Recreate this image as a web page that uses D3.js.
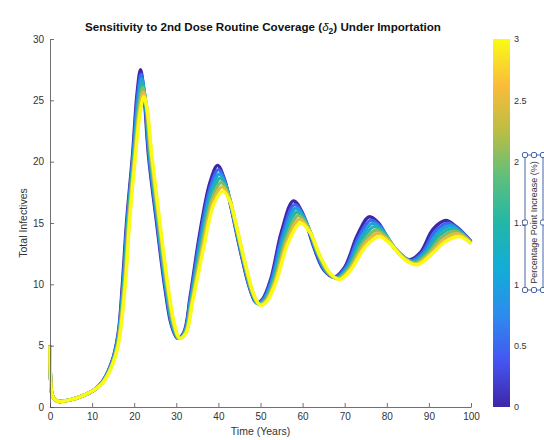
<!DOCTYPE html>
<html>
<head>
<meta charset="utf-8">
<script src="https://cdn.jsdelivr.net/npm/d3@7"></script>
<style>
  html, body { margin: 0; padding: 0; background: #fff; }
  svg { display: block; }
  text { font-family: "Liberation Sans", Arial, Helvetica, sans-serif; }
</style>
</head>
<body>
<svg id="chart" width="544" height="440"></svg>
<script>
// Percentage-point increase in 2nd dose routine coverage for each simulated run
const deltaValues = [0, 0.5, 1, 1.5, 2, 2.5, 3];

// Shared start of every run (years, total infectives): the runs coincide here
const startPhase = [[0, 5.0], [0.15, 2.2], [0.5, 1.0], [1.2, 0.6], [2.2, 0.45], [5, 0.6], [8, 0.95], [10.5, 1.4]];

// Knots (years, total infectives) of each run after the start phase
const run0 = [[12.5,2.1],[14.7,3.7],[16.2,6.0],[17.2,10.0],[18.2,15.1],[19.6,20.5],[20.7,25.6],[21.5,27.5],[22.3,25.6],[23.4,20.5],[25.3,15.1],[27.3,9.7],[28.9,6.6],[30.3,5.6],[31.8,6.1],[33.3,9.0],[35.6,14.2],[38.0,18.3],[39.8,19.7],[41.4,18.6],[42.8,16.6],[45.3,12.6],[47.5,9.6],[49.0,8.5],[50.5,8.8],[52.5,10.5],[55.0,14.3],[57.8,16.8],[60.0,15.8],[62.5,13.2],[65.0,11.2],[67.5,10.6],[70.0,11.4],[73.0,14.0],[75.8,15.5],[78.0,15.0],[81.0,13.3],[85.3,12.0],[88.0,12.6],[91.0,14.5],[94.0,15.2],[96.5,14.7],[100,13.5]];
const run1 = [[12.5,2.08],[14.7,3.63],[16.2,5.83],[17.32,10.0],[18.32,15.1],[19.72,20.5],[20.83,25.37],[21.63,27.13],[22.43,25.37],[23.53,20.5],[25.43,15.1],[27.43,9.7],[29.02,6.62],[30.38,5.6],[31.88,6.08],[33.4,8.93],[35.73,13.97],[38.17,18.02],[40.02,19.35],[41.63,18.28],[43.03,16.32],[45.52,12.4],[47.68,9.5],[49.17,8.47],[50.67,8.77],[52.68,10.43],[55.27,14.15],[58.08,16.5],[60.3,15.53],[62.8,13.03],[65.3,11.13],[67.73,10.57],[70.25,11.37],[73.33,13.85],[76.2,15.23],[78.47,14.72],[81.55,13.08],[85.63,11.93],[88.42,12.57],[91.5,14.33],[94.53,14.98],[96.92,14.52],[100,13.47]];
const run2 = [[12.5,2.05],[14.7,3.57],[16.2,5.67],[17.43,10.0],[18.43,15.1],[19.83,20.5],[20.97,25.13],[21.77,26.77],[22.57,25.13],[23.67,20.5],[25.57,15.1],[27.57,9.7],[29.13,6.63],[30.47,5.6],[31.97,6.07],[33.5,8.87],[35.87,13.73],[38.33,17.73],[40.23,19.0],[41.87,17.97],[43.27,16.03],[45.73,12.2],[47.87,9.4],[49.33,8.43],[50.83,8.73],[52.87,10.37],[55.53,14.0],[58.37,16.2],[60.6,15.27],[63.1,12.87],[65.6,11.07],[67.97,10.53],[70.5,11.33],[73.67,13.7],[76.6,14.97],[78.93,14.43],[82.1,12.87],[85.97,11.87],[88.83,12.53],[92.0,14.17],[95.07,14.77],[97.33,14.33],[100,13.43]];
const run3 = [[12.5,2.03],[14.7,3.5],[16.2,5.5],[17.55,10.0],[18.55,15.1],[19.95,20.5],[21.1,24.9],[21.9,26.4],[22.7,24.9],[23.8,20.5],[25.7,15.1],[27.7,9.7],[29.25,6.65],[30.55,5.6],[32.05,6.05],[33.6,8.8],[36.0,13.5],[38.5,17.45],[40.45,18.65],[42.1,17.65],[43.5,15.75],[45.95,12.0],[48.05,9.3],[49.5,8.4],[51.0,8.7],[53.05,10.3],[55.8,13.85],[58.65,15.9],[60.9,15.0],[63.4,12.7],[65.9,11.0],[68.2,10.5],[70.75,11.3],[74.0,13.55],[77.0,14.7],[79.4,14.15],[82.65,12.65],[86.3,11.8],[89.25,12.5],[92.5,14.0],[95.6,14.55],[97.75,14.15],[100,13.4]];
const run4 = [[12.5,2.0],[14.7,3.43],[16.2,5.33],[17.67,10.0],[18.67,15.1],[20.07,20.5],[21.23,24.67],[22.03,26.03],[22.83,24.67],[23.93,20.5],[25.83,15.1],[27.83,9.7],[29.37,6.67],[30.63,5.6],[32.13,6.03],[33.7,8.73],[36.13,13.27],[38.67,17.17],[40.67,18.3],[42.33,17.33],[43.73,15.47],[46.17,11.8],[48.23,9.2],[49.67,8.37],[51.17,8.67],[53.23,10.23],[56.07,13.7],[58.93,15.6],[61.2,14.73],[63.7,12.53],[66.2,10.93],[68.43,10.47],[71.0,11.27],[74.33,13.4],[77.4,14.43],[79.87,13.87],[83.2,12.43],[86.63,11.73],[89.67,12.47],[93.0,13.83],[96.13,14.33],[98.17,13.97],[100,13.37]];
const run5 = [[12.5,1.98],[14.7,3.37],[16.2,5.17],[17.78,10.0],[18.78,15.1],[20.18,20.5],[21.37,24.43],[22.17,25.67],[22.97,24.43],[24.07,20.5],[25.97,15.1],[27.97,9.7],[29.48,6.68],[30.72,5.6],[32.22,6.02],[33.8,8.67],[36.27,13.03],[38.83,16.88],[40.88,17.95],[42.57,17.02],[43.97,15.18],[46.38,11.6],[48.42,9.1],[49.83,8.33],[51.33,8.63],[53.42,10.17],[56.33,13.55],[59.22,15.3],[61.5,14.47],[64.0,12.37],[66.5,10.87],[68.67,10.43],[71.25,11.23],[74.67,13.25],[77.8,14.17],[80.33,13.58],[83.75,12.22],[86.97,11.67],[90.08,12.43],[93.5,13.67],[96.67,14.12],[98.58,13.78],[100,13.33]];
const run6 = [[12.5,1.95],[14.7,3.3],[16.2,5.0],[17.9,10.0],[18.9,15.1],[20.3,20.5],[21.5,24.2],[22.3,25.3],[23.1,24.2],[24.2,20.5],[26.1,15.1],[28.1,9.7],[29.6,6.7],[30.8,5.6],[32.3,6.0],[33.9,8.6],[36.4,12.8],[39.0,16.6],[41.1,17.6],[42.8,16.7],[44.2,14.9],[46.6,11.4],[48.6,9.0],[50.0,8.3],[51.5,8.6],[53.6,10.1],[56.6,13.4],[59.5,15.0],[61.8,14.2],[64.3,12.2],[66.8,10.8],[68.9,10.4],[71.5,11.2],[75.0,13.1],[78.2,13.9],[80.8,13.3],[84.3,12.0],[87.3,11.6],[90.5,12.4],[94.0,13.5],[97.2,13.9],[99.0,13.6],[100,13.3]];
const runs = [run0, run1, run2, run3, run4, run5, run6];

// Axis tick values
const xTicks = [0, 10, 20, 30, 40, 50, 60, 70, 80, 90, 100];
const yTicks = [0, 5, 10, 15, 20, 25, 30];
const cTicks = [0, 0.5, 1, 1.5, 2, 2.5, 3];

// Parula colour map stops
const parulaStops = [0, 0.125, 0.25, 0.375, 0.5, 0.625, 0.75, 0.875, 1];
const parulaColors = ["#3e26a8", "#4655f2", "#2c8ced", "#12acd8", "#22b7a8", "#5ebf7c", "#bcbd45", "#fbbc3a", "#f9fb15"];

const svg = d3.select("#chart");
const axisColor = "#4d4d4d";

const x = d3.scaleLinear().domain([0, 100]).range([50, 471]);
const y = d3.scaleLinear().domain([0, 30]).range([407, 39]);
const parula = d3.scaleLinear().domain(parulaStops).range(parulaColors).interpolate(d3.interpolateRgb);
const cDomain = d3.extent(cTicks);
const cColor = v => parula((v - cDomain[0]) / (cDomain[1] - cDomain[0]));

// Curves, lowest coverage increase drawn first
const line = d3.line()
  .x(d => x(d[0]))
  .y(d => y(d[1]))
  .curve(d3.curveCatmullRom.alpha(0.5));

svg.append("g")
  .selectAll("path")
  .data(runs.map((r, i) => ({ delta: deltaValues[i], pts: startPhase.concat(r) })))
  .join("path")
  .attr("d", d => line(d.pts))
  .attr("fill", "none")
  .attr("stroke", d => cColor(d.delta))
  .attr("stroke-width", 3.4)
  .attr("stroke-linejoin", "round");

// Axes (ticks pointing inward)
function styleAxis(g) {
  g.selectAll("path.domain").attr("stroke", axisColor).attr("stroke-width", 0.8);
  g.selectAll(".tick line").attr("stroke", axisColor).attr("stroke-width", 0.8);
  g.selectAll(".tick text").attr("fill", "#333").attr("font-size", 10)
    .attr("font-family", "'Liberation Sans', Arial, Helvetica, sans-serif");
}

svg.append("g")
  .attr("transform", "translate(0,407)")
  .call(d3.axisBottom(x).tickValues(xTicks).tickSizeInner(-4).tickSizeOuter(0).tickPadding(6).tickFormat(d3.format("d")))
  .call(styleAxis);

svg.append("g")
  .attr("transform", "translate(50,0)")
  .call(d3.axisLeft(y).tickValues(yTicks).tickSizeInner(-4).tickSizeOuter(0).tickPadding(6).tickFormat(d3.format("d")))
  .call(styleAxis);

// Axis labels and title
svg.append("text")
  .attr("x", 260.5).attr("y", 435)
  .attr("text-anchor", "middle").attr("font-size", 10.5).attr("fill", "#333")
  .text("Time (Years)");

svg.append("text")
  .attr("transform", "translate(27,223) rotate(-90)")
  .attr("text-anchor", "middle").attr("font-size", 10.5).attr("fill", "#333")
  .text("Total Infectives");

const title = svg.append("text")
  .attr("x", 263).attr("y", 31)
  .attr("text-anchor", "middle").attr("font-size", 11.6).attr("font-weight", "bold").attr("fill", "#111");
title.append("tspan").text("Sensitivity to 2nd Dose Routine Coverage (");
title.append("tspan").attr("font-style", "italic").attr("font-weight", "normal").text("δ");
title.append("tspan").attr("font-size", 8.5).attr("dy", 3).text("2");
title.append("tspan").attr("dy", -3).text(") Under Importation");

// Colour bar
const cb = { x: 493, w: 17 };
const cScale = d3.scaleLinear().domain(cDomain).range([407, 39]);
const defs = svg.append("defs");
const grad = defs.append("linearGradient")
  .attr("id", "parulaGrad")
  .attr("x1", 0).attr("y1", 1).attr("x2", 0).attr("y2", 0);
grad.selectAll("stop")
  .data(parulaStops)
  .join("stop")
  .attr("offset", d => d)
  .attr("stop-color", (d, i) => parulaColors[i]);

svg.append("rect")
  .attr("x", cb.x).attr("y", cScale(cDomain[1]))
  .attr("width", cb.w).attr("height", cScale(cDomain[0]) - cScale(cDomain[1]))
  .attr("fill", "url(#parulaGrad)");

svg.append("g")
  .attr("transform", `translate(${cb.x + cb.w},0)`)
  .call(d3.axisRight(cScale).tickValues(cTicks).tickSize(0).tickPadding(4).tickFormat(d => String(d)))
  .call(g => g.select("path.domain").remove())
  .call(g => g.selectAll(".tick text").attr("fill", "#333").attr("font-size", 9)
    .attr("font-family", "'Liberation Sans', Arial, Helvetica, sans-serif"));

// Colour bar label with its edit frame and handles
const lab = { x0: 525, x1: 543, y0: 155, y1: 290 };
const labMid = { x: (lab.x0 + lab.x1) / 2, y: (lab.y0 + lab.y1) / 2 };
svg.append("text")
  .attr("transform", `translate(${labMid.x + 3},${labMid.y}) rotate(-90)`)
  .attr("text-anchor", "middle").attr("font-size", 9).attr("fill", "#333")
  .text("Percentage Point Increase (%)");
const frameColor = "#4767a8";
svg.append("rect")
  .attr("x", lab.x0).attr("y", lab.y0)
  .attr("width", lab.x1 - lab.x0).attr("height", lab.y1 - lab.y0)
  .attr("fill", "none").attr("stroke", frameColor).attr("stroke-width", 1);
const handles = [];
[lab.x0, labMid.x, lab.x1].forEach(hx => [lab.y0, labMid.y, lab.y1].forEach(hy => {
  if (!(hx === labMid.x && hy === labMid.y)) handles.push([hx, hy]);
}));
svg.append("g").selectAll("rect")
  .data(handles)
  .join("rect")
  .attr("x", d => d[0] - 2.5).attr("y", d => d[1] - 2.5)
  .attr("width", 5).attr("height", 5).attr("rx", 1.5)
  .attr("fill", "#fff").attr("stroke", frameColor).attr("stroke-width", 1);
</script>
</body>
</html>
